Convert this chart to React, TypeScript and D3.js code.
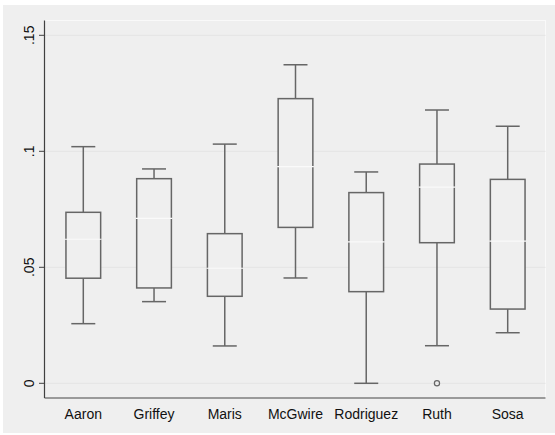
import React from "react";
import * as d3 from "d3";

const players = ["Aaron", "Griffey", "Maris", "McGwire", "Rodriguez", "Ruth", "Sosa"];
const lowerWhisker = [0.0257, 0.0352, 0.0161, 0.0454, 0.0, 0.0162, 0.0218];
const q1 = [0.0453, 0.0411, 0.0375, 0.0672, 0.0395, 0.0606, 0.032];
const median = [0.0621, 0.0711, 0.0496, 0.0934, 0.061, 0.0846, 0.0613];
const q3 = [0.0737, 0.0882, 0.0645, 0.1227, 0.0822, 0.0945, 0.0879];
const upperWhisker = [0.102, 0.0924, 0.1031, 0.1373, 0.0911, 0.1178, 0.1108];
const outlierPlayer = ["Ruth"];
const outlierValue = [0.0];
const yTicks = [0, 0.05, 0.1, 0.15];
const yTickLabels = ["0", ".05", ".1", ".15"];

const W = 555;
const H = 435;
const plot = { left: 44.5, top: 20.5, right: 545.5, bottom: 398 };

export default function App() {
  // box centres along the categorical axis
  const x = d3.scalePoint<string>().domain(players).range([83.3, 507.7]);
  const y = d3.scaleLinear().domain([0, 0.15]).range([383.3, 35.3]);

  const bw = 34.7;
  const capW = 24;
  const boxColor = "#666666";
  const font = "Arial, 'Liberation Sans', sans-serif";

  return (
    <svg
      width={W}
      height={H}
      style={{ position: "absolute", left: 0, top: 0, display: "block" }}
    >
      <rect x={0} y={0} width={W} height={H} fill="#ffffff" />
      <rect x={3} y={5} width={W - 3} height={428} fill="#efefef" />
      {/* plot region frame */}
      <rect
        x={plot.left}
        y={plot.top}
        width={plot.right - plot.left}
        height={plot.bottom - plot.top}
        fill="#efefef"
        stroke="#f9f9f9"
        strokeWidth={1}
      />
      {/* grid lines */}
      {yTicks.map((t) => (
        <line
          key={`g${t}`}
          x1={plot.left}
          x2={plot.right}
          y1={y(t)}
          y2={y(t)}
          stroke="#e4e4e4"
          strokeWidth={1}
        />
      ))}
      {/* boxes */}
      {players.map((p, i) => {
        const cx = x(p) as number;
        const x0 = cx - bw / 2;
        return (
          <g key={p}>
            <line x1={cx} x2={cx} y1={y(upperWhisker[i])} y2={y(q3[i])} stroke={boxColor} strokeWidth={1.5} />
            <line x1={cx} x2={cx} y1={y(q1[i])} y2={y(lowerWhisker[i])} stroke={boxColor} strokeWidth={1.5} />
            <line x1={cx - capW / 2} x2={cx + capW / 2} y1={y(upperWhisker[i])} y2={y(upperWhisker[i])} stroke={boxColor} strokeWidth={1.5} />
            <line x1={cx - capW / 2} x2={cx + capW / 2} y1={y(lowerWhisker[i])} y2={y(lowerWhisker[i])} stroke={boxColor} strokeWidth={1.5} />
            <rect
              x={x0}
              y={y(q3[i])}
              width={bw}
              height={y(q1[i]) - y(q3[i])}
              fill="#efefef"
              stroke={boxColor}
              strokeWidth={1.5}
            />
            <line
              x1={x0 - 1}
              x2={x0 + bw + 1}
              y1={y(median[i])}
              y2={y(median[i])}
              stroke="#fafafa"
              strokeWidth={1.2}
            />
          </g>
        );
      })}
      {/* outside values */}
      {outlierPlayer.map((p, i) => (
        <circle
          key={`o${p}`}
          cx={x(p) as number}
          cy={y(outlierValue[i])}
          r={2.6}
          fill="none"
          stroke={boxColor}
          strokeWidth={1.2}
        />
      ))}
      {/* axes */}
      <line x1={plot.left} x2={plot.left} y1={plot.top} y2={plot.bottom} stroke="#404040" strokeWidth={1.2} />
      <line x1={plot.left} x2={plot.right} y1={plot.bottom} y2={plot.bottom} stroke="#404040" strokeWidth={1.2} />
      {yTicks.map((t, i) => (
        <g key={`t${t}`}>
          <line x1={39} x2={plot.left} y1={y(t)} y2={y(t)} stroke="#404040" strokeWidth={1} />
          <text
            transform={`translate(34,${y(t)}) rotate(-90)`}
            textAnchor="middle"
            fontFamily={font}
            fontSize={14}
            fill="#111"
          >
            {yTickLabels[i]}
          </text>
        </g>
      ))}
      {players.map((p) => (
        <text
          key={`l${p}`}
          x={x(p) as number}
          y={418.5}
          textAnchor="middle"
          fontFamily={font}
          fontSize={14}
          fill="#111"
        >
          {p}
        </text>
      ))}
    </svg>
  );
}
